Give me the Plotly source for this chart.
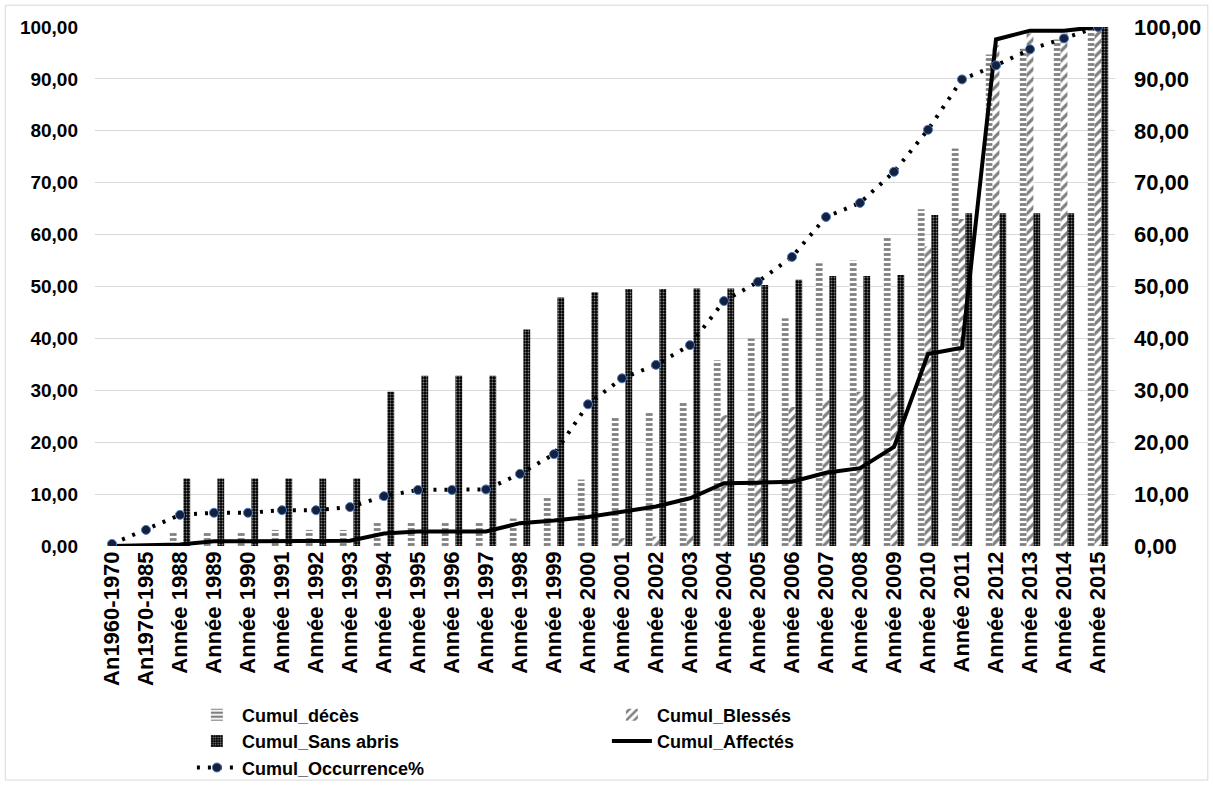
import plotly.graph_objects as go

# Category labels (x axis)
categories = [
    "An1960-1970", "An1970-1985",
    "Année 1988", "Année 1989", "Année 1990", "Année 1991", "Année 1992",
    "Année 1993", "Année 1994", "Année 1995", "Année 1996", "Année 1997",
    "Année 1998", "Année 1999", "Année 2000", "Année 2001", "Année 2002",
    "Année 2003", "Année 2004", "Année 2005", "Année 2006", "Année 2007",
    "Année 2008", "Année 2009", "Année 2010", "Année 2011", "Année 2012",
    "Année 2013", "Année 2014", "Année 2015",
]

# Cumulative percentages per category
cumul_deces = [0, 0, 2.8, 2.8, 2.8, 3.1, 3.1, 3.1, 4.5, 4.5, 4.5, 4.5, 5.3, 9.4,
               12.8, 24.9, 25.7, 27.8, 35.8, 40.0, 43.9, 54.5, 55.0, 59.7, 64.9,
               76.6, 94.7, 95.8, 97.6, 100]
cumul_blesses = [0, 0, 0, 0, 0, 0, 0, 0, 0, 0, 0, 0, 0, 0,
                 0, 1.5, 1.8, 2.2, 25.2, 25.9, 26.8, 28.1, 29.7, 29.7, 57.7,
                 63.0, 96.5, 98.8, 99.0, 100]
cumul_sans_abris = [0, 0, 13, 13, 13, 13, 13, 13, 29.7, 32.8, 32.8, 32.8, 41.7, 47.9,
                    48.9, 49.5, 49.5, 49.6, 49.6, 50.3, 51.3, 52.0, 52.0, 52.2, 63.8,
                    64.1, 64.1, 64.1, 64.1, 100]
cumul_affectes = [0, 0.1, 0.3, 0.9, 0.9, 0.9, 0.9, 1.0, 2.4, 2.8, 2.8, 2.8, 4.4, 4.9,
                  5.6, 6.6, 7.6, 9.2, 12.1, 12.2, 12.4, 14.1, 15.0, 19.1, 37.0,
                  38.2, 97.6, 99.3, 99.3, 100]
cumul_occurrence = [0.4, 3.1, 6.0, 6.4, 6.4, 6.9, 6.9, 7.5, 9.6, 10.8, 10.8, 10.9, 13.9, 17.7,
                    27.3, 32.3, 34.9, 38.7, 47.2, 50.9, 55.7, 63.4, 66.1, 72.1, 80.2,
                    89.9, 92.6, 95.7, 97.8, 100]

FONT = "Liberation Sans, Arial, sans-serif"

fig = go.Figure()

fig.add_trace(go.Bar(
    name="Cumul_décès", x=categories, y=cumul_deces,
    marker=dict(color="white", line=dict(width=0),
                pattern=dict(shape="-", fgcolor="black", bgcolor="white",
                             size=5, solidity=0.55)),
))
fig.add_trace(go.Bar(
    name="Cumul_Blessés", x=categories, y=cumul_blesses,
    marker=dict(color="white", line=dict(width=0),
                pattern=dict(shape="/", fgcolor="black", bgcolor="white",
                             size=7, solidity=0.45)),
))
fig.add_trace(go.Bar(
    name="Cumul_Sans abris", x=categories, y=cumul_sans_abris,
    marker=dict(color="black", line=dict(width=0),
                pattern=dict(shape=".", fgcolor="white", bgcolor="black",
                             size=3, solidity=0.35)),
))
fig.add_trace(go.Scatter(
    name="Cumul_Affectés", x=categories, y=cumul_affectes, yaxis="y2",
    mode="lines", line=dict(color="black", width=4),
))
fig.add_trace(go.Scatter(
    name="Cumul_Occurrence%", x=categories, y=cumul_occurrence, yaxis="y2",
    mode="lines+markers",
    line=dict(color="black", width=4, dash="3px,8px"),
    marker=dict(size=9, color="#14213d", line=dict(color="#4a78c8", width=1)),
))

grid = "#d9d9d9"
fig.update_layout(
    width=1213, height=785,
    margin=dict(l=95, r=98, t=27, b=239, autoexpand=False),
    paper_bgcolor="white", plot_bgcolor="white",
    separators=", ",
    barmode="group", bargap=0.4, bargroupgap=0,
    font=dict(family=FONT, color="black"),
    showlegend=True,
    legend=dict(
        orientation="h", x=0.095, y=-0.29, xanchor="left", yanchor="top",
        entrywidth=360, entrywidthmode="pixels", tracegroupgap=0,
        font=dict(family=FONT, size=18, weight="bold", color="black"),
        itemwidth=40, bgcolor="rgba(0,0,0,0)",
    ),
    xaxis=dict(
        type="category", range=[-0.5, len(categories) - 0.5],
        tickangle=-90, showgrid=False, ticks="", showline=False, automargin=False,
        tickfont=dict(family=FONT, size=22, weight="bold", color="black"),
    ),
    yaxis=dict(
        range=[0, 100], dtick=10, tickformat=".2f", automargin=False,
        showgrid=True, gridcolor=grid, gridwidth=1, zeroline=False,
        showline=False, ticks="", ticklabelstandoff=16,
        tickfont=dict(family=FONT, size=19, weight="bold", color="black"),
    ),
    yaxis2=dict(
        range=[0, 100], dtick=10, tickformat=".2f", overlaying="y", side="right",
        showgrid=False, zeroline=False, showline=False, ticks="", automargin=False,
        ticklabelstandoff=18,
        tickfont=dict(family=FONT, size=22, weight="bold", color="black"),
    ),
    shapes=[dict(type="rect", xref="paper", yref="paper",
                 x0=-0.088, x1=1.091, y0=-0.451, y1=1.042,
                 line=dict(color="#d9d9d9", width=1), layer="below")],
)

fig.write_html("out.html")
